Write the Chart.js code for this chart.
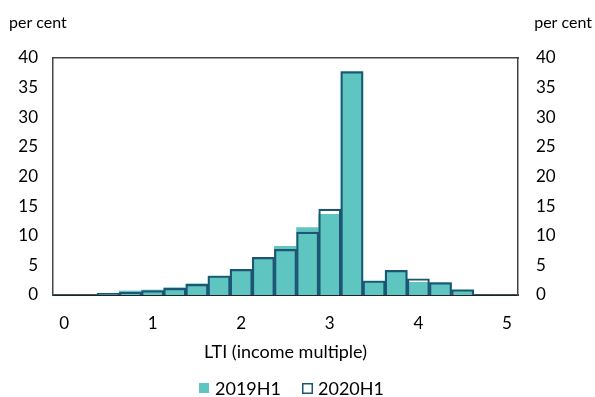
<!DOCTYPE html>
<html>
<head>
<meta charset="utf-8">
<script src="https://cdn.jsdelivr.net/npm/chart.js@4"></script>
<style>
  html, body { margin: 0; padding: 0; background: #fff; }
  #wrap { width: 595px; height: 397px; position: relative; }
</style>
</head>
<body>
<div id="wrap"><canvas id="chart" width="595" height="397"></canvas></div>
<script>
const bins = ['0', '0.25', '0.5', '0.75', '1', '1.25', '1.5', '1.75', '2', '2.25', '2.5',
  '2.75', '3', '3.25', '3.5', '3.75', '4', '4.25', '4.5', '4.75', '5'];
const shown = ['0', '1', '2', '3', '4', '5'];
const h2019 = [0, 0, 0.3, 0.68, 0.84, 1.24, 1.9, 3.2, 4.33, 6.35, 8.2, 11.4, 13.6, 37.7, 2.36, 4.1, 2.14, 2.08, 0.9, 0, 0];
const h2020 = [0, 0, 0.28, 0.45, 0.73, 1.12, 1.8, 3.2, 4.33, 6.35, 7.7, 10.6, 14.5, 37.7, 2.36, 4.15, 2.75, 2.1, 0.88, 0, 0];
const yTicks = [0, 5, 10, 15, 20, 25, 30, 35, 40];

const FONT = 'Lato, "Open Sans", sans-serif';
const FILL = '#5fc5c1';
const LINE = '#1d5674';

// "per cent" unit labels and the bottom legend
const extras = {
  id: 'extras',
  afterDraw(chart) {
    const c = chart.ctx;
    c.save();
    c.font = '16px ' + FONT;
    c.fillStyle = '#000';
    c.textBaseline = 'middle';
    c.textAlign = 'left';
    c.fillText('per cent', 9, 23);
    c.textAlign = 'right';
    c.fillText('per cent', 592, 23);

    const ds = chart.data.datasets;
    const slots = [199, 302];
    c.font = '18px ' + FONT;
    c.textAlign = 'left';
    ds.forEach((d, i) => {
      const x = slots[i];
      if (d.borderWidth > 0) {
        c.strokeStyle = d.borderColor;
        c.lineWidth = 1.5;
        c.strokeRect(x + 0.75, 383.75, 9.5, 9.5);
      } else {
        c.fillStyle = d.backgroundColor;
        c.fillRect(x, 383, 10, 10);
      }
      c.fillStyle = '#000';
      c.fillText(d.label, x + 16, 389);
    });
    c.restore();
  }
};

new Chart(document.getElementById('chart'), {
  type: 'bar',
  data: {
    labels: bins,
    datasets: [{
      label: '2019H1',
      data: h2019,
      backgroundColor: FILL,
      borderWidth: 0,
      order: 2
    }, {
      label: '2020H1',
      data: h2020,
      backgroundColor: 'rgba(0,0,0,0)',
      borderColor: LINE,
      borderWidth: 1.5,
      order: 1
    }]
  },
  options: {
    responsive: false,
    animation: false,
    grouped: false,
    barPercentage: 1,
    categoryPercentage: 1,
    layout: { padding: { top: 58, left: 0, right: 0, bottom: 0 } },
    plugins: {
      tooltip: { enabled: false },
      legend: { display: false }
    },
    scales: {
      x: {
        grid: { display: false, drawTicks: false },
        border: { display: true, color: '#222', width: 2 },
        ticks: {
          autoSkip: false, maxRotation: 0, padding: 18,
          font: { family: FONT, size: 17 }, color: '#000',
          callback: (v, i) => shown.includes(bins[i]) ? bins[i] : ''
        },
        title: { display: true, text: 'LTI (income multiple)', font: { family: FONT, size: 18 }, color: '#000', padding: { top: 4, bottom: 34 } },
        afterFit: s => { s.height = 102; }
      },
      xTop: {
        position: 'top',
        grid: { display: false, drawTicks: false },
        border: { display: true, color: '#444', width: 1.5 },
        ticks: { display: false },
        afterFit: s => { s.height = 0; }
      },
      y: {
        min: 0, max: 40,
        grid: { display: false, drawTicks: false },
        border: { display: true, color: '#444', width: 1.5 },
        afterBuildTicks: s => { s.ticks = yTicks.map(v => ({ value: v })); },
        ticks: { padding: 15, font: { family: FONT, size: 17 }, color: '#000' },
        afterFit: s => { s.width = 53; }
      },
      y2: {
        position: 'right',
        min: 0, max: 40,
        grid: { display: false, drawTicks: false },
        border: { display: true, color: '#444', width: 1.5 },
        afterBuildTicks: s => { s.ticks = yTicks.map(v => ({ value: v })); },
        ticks: { padding: 18, font: { family: FONT, size: 17 }, color: '#000' },
        afterFit: s => { s.width = 77; }
      }
    }
  },
  plugins: [extras]
});
</script>
</body>
</html>
